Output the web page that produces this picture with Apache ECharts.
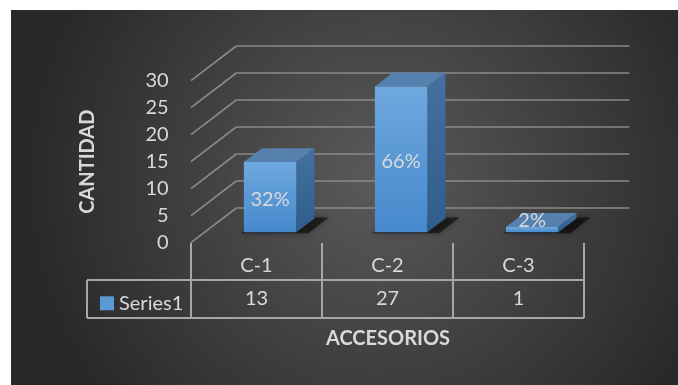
<!DOCTYPE html>
<html>
<head>
<meta charset="utf-8">
<script src="https://cdn.jsdelivr.net/npm/echarts@6/dist/echarts.min.js"></script>
<style>
html,body{margin:0;padding:0;background:#fff;}
#chart{width:678px;height:385px;}
</style>
</head>
<body>
<div id="chart"></div>
<script>
// ---- data ----
const categories = ['C-1', 'C-2', 'C-3'];
const values = [13, 27, 1];
const pctLabels = ['32%', '66%', '2%'];
const seriesName = 'Series1';
const yTicks = [0, 5, 10, 15, 20, 25, 30];
const yTitle = 'CANTIDAD';
const xTitle = 'ACCESORIOS';

// ---- styling constants ----
const FONT = 'Lato, "Open Sans", sans-serif';
const TXT = '#d9d9d9';
const DX = 45.3, DY = -34.7;       // floor depth projection
const BAR_FRONT = 0.3, BAR_BACK = 0.7, BAR_W = 0.4;

const chart = echarts.init(document.getElementById('chart'));

function renderWalls(params, api) {
  const cs = params.coordSys;
  const v = api.value(1);
  const y = api.coord([0, v])[1];
  const x0 = cs.x, x1 = cs.x + cs.width;
  const ls = { stroke: '#8a8a8a', lineWidth: 1.6 };
  return {
    type: 'group',
    children: [
      { type: 'line', shape: { x1: x0, y1: y, x2: x0 + DX, y2: y + DY }, style: ls },
      { type: 'line', shape: { x1: x0 + DX, y1: y + DY, x2: x1 + DX, y2: y + DY }, style: ls }
    ]
  };
}

function renderBars(params, api) {
  const i = api.value(0), v = api.value(1);
  const base = api.coord([i, 0]);
  const top = api.coord([i, v]);
  const bw = api.size([1, 0])[0] * BAR_W;
  const fx = base[0] + DX * BAR_FRONT - bw / 2;
  const fy0 = base[1] + DY * BAR_FRONT;
  const fy1 = top[1] + DY * BAR_FRONT;
  const ddx = DX * (BAR_BACK - BAR_FRONT), ddy = DY * (BAR_BACK - BAR_FRONT);
  const labelY = Math.min((fy0 + fy1) / 2 + 2.5, fy0 - 11.6);
  return {
    type: 'group',
    children: [
      { type: 'polygon',
        shape: { points: [[fx - 3, fy0 + 1], [fx + bw + 12, fy0 + 1], [fx + bw + ddx + 14, fy0 + ddy - 1], [fx + ddx + 4, fy0 + ddy - 1]] },
        style: { fill: 'rgba(0,0,0,0.55)', shadowBlur: 6, shadowColor: 'rgba(0,0,0,0.6)' } },
      { type: 'polygon',
        shape: { points: [[fx + bw, fy1], [fx + bw + ddx, fy1 + ddy], [fx + bw + ddx, fy0 + ddy], [fx + bw, fy0]] },
        style: { fill: { type: 'linear', x: 0, y: 0, x2: 0, y2: 1, colorStops: [{ offset: 0, color: '#44719f' }, { offset: 1, color: '#2f5d8c' }] } } },
      { type: 'polygon',
        shape: { points: [[fx, fy1], [fx + ddx, fy1 + ddy], [fx + bw + ddx, fy1 + ddy], [fx + bw, fy1]] },
        style: { fill: '#5680ae' } },
      { type: 'rect',
        shape: { x: fx, y: fy1, width: bw, height: fy0 - fy1 },
        style: { fill: { type: 'linear', x: 0, y: 0, x2: 0, y2: 1, colorStops: [{ offset: 0, color: '#6ea8df' }, { offset: 1, color: '#4689cc' }] } } },
      { type: 'text',
        style: { text: pctLabels[i], x: fx + bw / 2, y: labelY, fill: TXT, fontSize: 20, fontFamily: FONT, align: 'center', verticalAlign: 'middle' } },
      { type: 'text',
        style: { text: String(v), x: base[0], y: base[1] + 56.3, fill: TXT, fontSize: 20, fontFamily: FONT, align: 'center', verticalAlign: 'middle' } }
    ]
  };
}

const lineStyle = { stroke: '#a6a6a6', lineWidth: 2 };
const tableLines = [
  [[191, 243], [191, 318]], [[322, 243], [322, 318]], [[453, 243], [453, 318]], [[584, 243], [584, 318]],
  [[87, 280], [584, 280]], [[87, 318], [584, 318]], [[87, 280], [87, 318]]
];

chart.setOption({
  animation: false,
  backgroundColor: '#ffffff',
  textStyle: { fontFamily: FONT },
  grid: { left: 191, top: 80.7, width: 393, height: 162, containLabel: false },
  legend: {
    data: [seriesName], left: 95, top: 288.3, icon: 'rect', itemWidth: 14, itemHeight: 14,
    textStyle: { color: TXT, fontSize: 20, fontFamily: FONT, lineHeight: 20 }
  },
  graphic: [
    { type: 'rect', z: -10, silent: true, shape: { x: 11, y: 10, width: 667, height: 375 },
      style: { fill: { type: 'radial', x: 0.55, y: 0.45, r: 0.95, colorStops: [{ offset: 0, color: '#5a5a5a' }, { offset: 1, color: '#282828' }] } } },
    ...tableLines.map(l => ({ type: 'line', silent: true, shape: { x1: l[0][0], y1: l[0][1], x2: l[1][0], y2: l[1][1] }, style: lineStyle })),
    { type: 'text', x: 87.7, y: 161.7, rotation: Math.PI / 2, silent: true,
      style: { text: yTitle, fill: TXT, fontSize: 20, fontWeight: 'bold', fontFamily: FONT, align: 'center', verticalAlign: 'middle' } },
    { type: 'text', x: 388, y: 338.3, silent: true,
      style: { text: xTitle, fill: TXT, fontSize: 20, fontWeight: 'bold', fontFamily: FONT, align: 'center', verticalAlign: 'middle' } }
  ],
  xAxis: {
    type: 'category', data: categories, boundaryGap: true,
    axisLine: { show: false }, axisTick: { show: false }, splitLine: { show: false },
    axisLabel: { color: TXT, fontSize: 20, fontFamily: FONT, margin: 23.3, verticalAlign: 'middle' }
  },
  yAxis: {
    type: 'value', min: 0, max: 30, interval: 5,
    axisLine: { show: false }, axisTick: { show: false }, splitLine: { show: false },
    axisLabel: { color: TXT, fontSize: 20, fontFamily: FONT, margin: 22.3 }
  },
  series: [
    { type: 'custom', name: 'walls', clip: false, z: 1, silent: true,
      data: yTicks.map(t => [0, t]), renderItem: renderWalls },
    { type: 'custom', name: seriesName, clip: false, z: 3,
      itemStyle: { color: '#5b9bd5' },
      data: values.map((v, i) => [i, v]), renderItem: renderBars }
  ]
});
</script>
</body>
</html>
